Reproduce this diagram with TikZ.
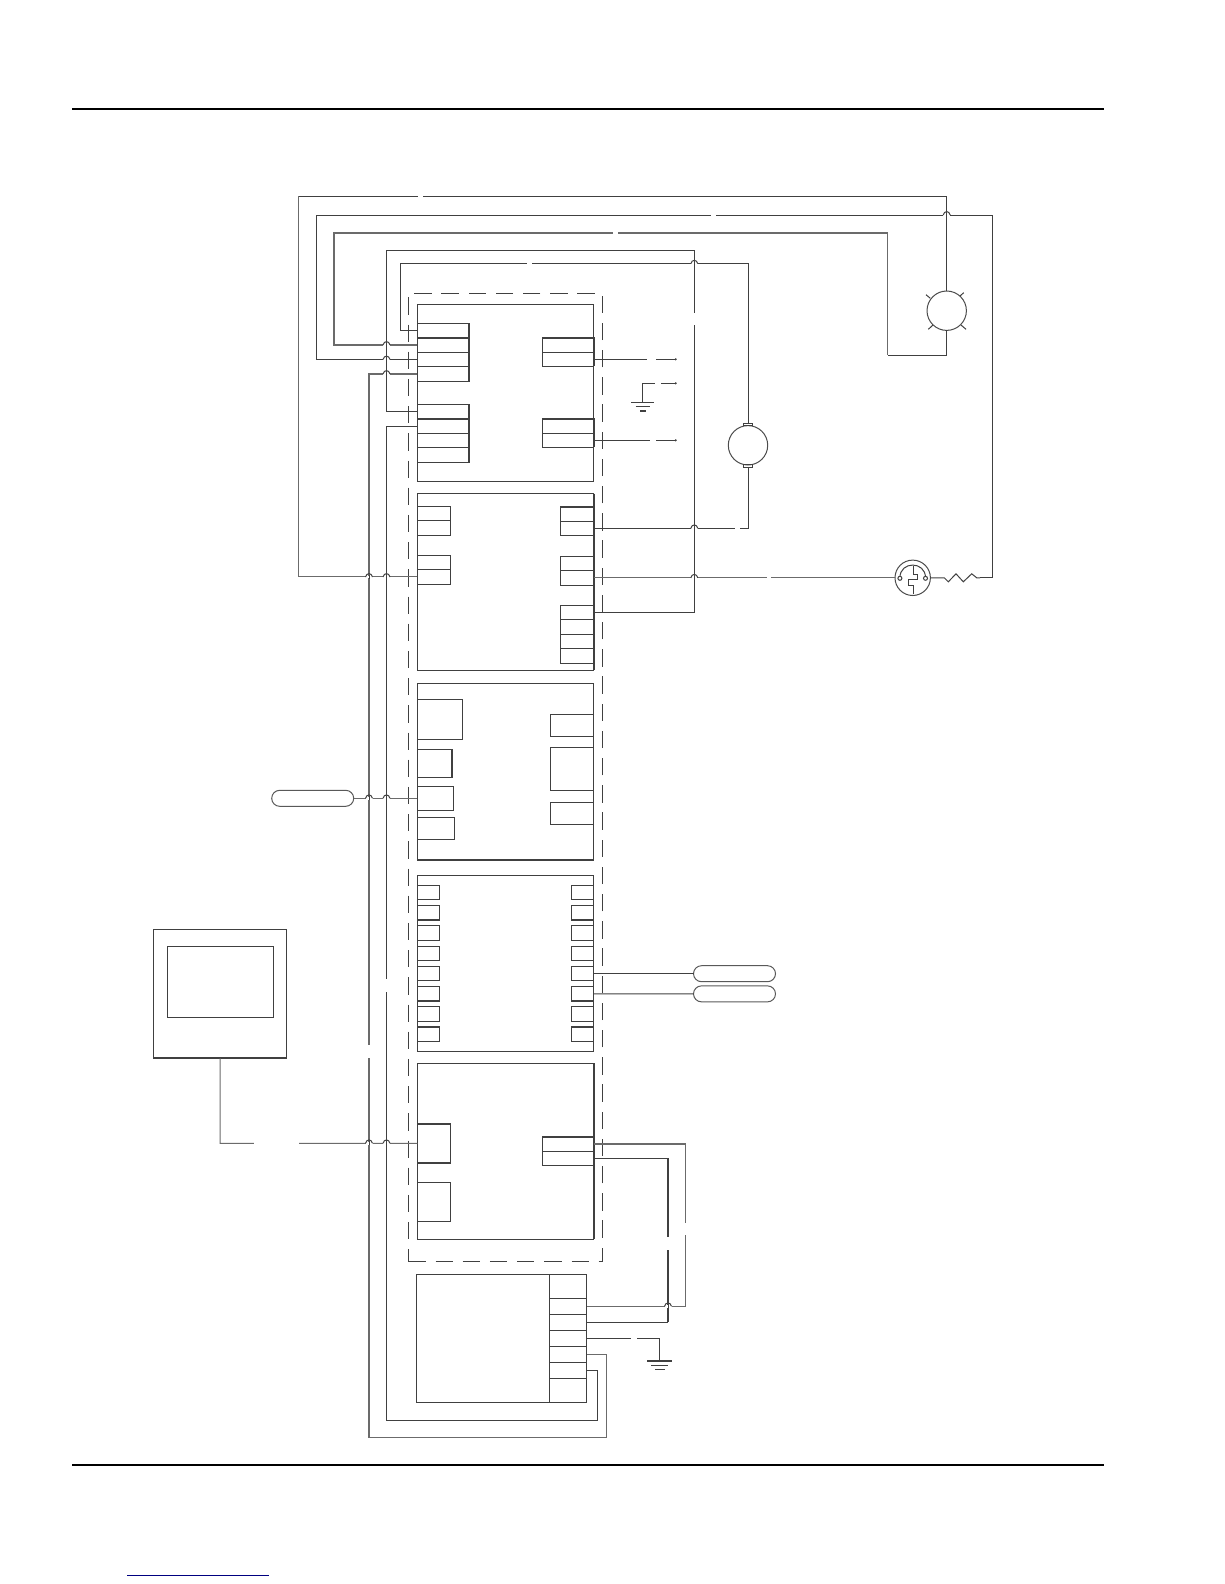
\documentclass[tikz,border=0pt]{standalone}
\usetikzlibrary{shapes.misc}

\begin{document}
\begin{tikzpicture}
	[
		x=1pt,
		y=-1pt,
		every node/.style={inner sep=0pt, outer sep=0pt},
		box/.style={
				rectangle,
				anchor=north west,
				line width=1pt,
				draw=black!75,
			},
		pin/.style={box},
		dashFrame/.style={
				box,
				dash pattern=on 17.3pt off 9.9pt,
			},
		part/.style={
				circle,
				line width=1pt,
				draw=black!70,
				fill=white,
			},
		pill/.style={
				rounded rectangle,
				minimum width=82pt,
				minimum height=16pt,
				line width=1pt,
				draw=black!65,
			},
		wire/.style={line width=1pt, draw=black!75},
		greyWire/.style={line width=1.3pt, draw=black!58},
		heavy/.style={line width=1.9pt, draw=black!75},
		pageRule/.style={line width=2pt, draw=black},
		hop/.pic={
				\fill[white] (-3.5,-1.2) rectangle (3.5,1.2);
				\draw[wire] (-3.5,0) .. controls (-2.5,-4.5) and (2.5,-4.5) .. (3.5,0);
				\draw[wire] (0,-2) -- (0,2);
			},
	]
	\useasboundingbox (0,0) rectangle (1224,1584);
	\draw[pageRule] (72,109) -- (1104,109);
	\draw[pageRule] (72,1465) -- (1104,1465);
	\draw[line width=1pt, draw=blue!50!black] (127,1575) -- (269,1575);

	% modules
	\node[dashFrame, minimum width=194pt, minimum height=968pt] (frame) at (408.3,293.3) {};
	\foreach \name/\xa/\ya/\xb/\yb in {
			box1/417.3/304.3/593.7/481.3,
			box2/417.3/493.7/593.7/670.3,
			box3/417.3/683.3/593.7/860,
			box4/417.3/875.3/593.7/1051.3,
			box5/417.3/1063.3/593.7/1239,
			psu/416.3/1274.3/549.3/1402.3,
			monitor/153.5/929.3/286.5/1058.3,
			screen/167.4/946.3/273.4/1017.3} {
		\node[box, minimum width={(\xb-\xa)*1pt}, minimum height={(\yb-\ya)*1pt}] (\name) at (\xa,\ya) {};
	}

	% connectors on the modules
	\foreach \name/\xa/\ya/\xb/\yb in {
			l1a/417.3/323.3/469.3/337.7, l1b/417.3/337.7/469.3/352.3,
			l1c/417.3/352.3/469.3/366.7, l1d/417.3/366.7/469.3/381.3,
			l1e/417.3/404.3/469.3/418.7, l1f/417.3/418.7/469.3/433.3,
			l1g/417.3/433.3/469.3/447.3, l1h/417.3/447.3/469.3/462.3,
			r1a/542.3/337.7/593.7/352.3, r1b/542.3/352.3/593.7/366.3,
			r1c/542.3/418.7/593.7/433.3, r1d/542.3/433.3/593.7/447.3,
			l2a/417.3/506.3/450.7/520.7, l2b/417.3/520.7/450.7/535.3,
			l2c/417.3/555.7/450.7/569.3, l2d/417.3/569.3/450.7/584.3,
			r2a/560.3/506.7/593.7/521.3, r2b/560.3/521.3/593.7/535.3,
			r2c/560.3/556.3/593.7/570.3, r2d/560.3/570.3/593.7/585.3,
			r2e/560.3/605.3/593.7/619.3, r2f/560.3/619.3/593.7/634.3,
			r2g/560.3/634.3/593.7/648.3, r2h/560.3/648.3/593.7/663.3,
			l3a/417.3/699.3/462.7/739.3, l3b/417.3/749.3/452.3/777.3,
			l3c/417.3/786.3/453.7/810.3, l3d/417.3/817.3/454.7/839.3,
			r3a/550.3/714.3/593.7/736.7, r3b/550.3/747.3/593.7/790.3,
			r3c/550.3/802.3/593.7/824.3,
			l5a/417.3/1124/450.7/1162.7, l5b/417.3/1182.3/450.7/1221.3,
			r5a/542.7/1136.7/593.7/1151.3, r5b/542.7/1151.3/593.7/1165.3,
			ps1/549.3/1274.3/586.7/1298.3, ps2/549.3/1298.3/586.7/1314.3,
			ps3/549.3/1314.3/586.7/1330.3, ps4/549.3/1330.3/586.7/1346.3,
			ps5/549.3/1346.3/586.7/1362.3, ps6/549.3/1362.3/586.7/1378.3,
			ps7/549.3/1378.3/586.7/1402.3} {
		\node[pin, minimum width={(\xb-\xa)*1pt}, minimum height={(\yb-\ya)*1pt}] (\name) at (\xa,\ya) {};
	}
	\foreach \i/\ya/\yb in {
			1/885.3/899.3, 2/905.7/920, 3/925.3/940.3, 4/946.7/960.3,
			5/966.7/980.7, 6/986.7/1001, 7/1006.3/1021.3, 8/1026.7/1041.3} {
		\node[pin, minimum width=22.4pt, minimum height={(\yb-\ya)*1pt}] (l4\i) at (417.3,\ya) {};
		\node[pin, minimum width=22.3pt, minimum height={(\yb-\ya)*1pt}] (r4\i) at (571.4,\ya) {};
	}

	% heavier edges
	\draw[heavy] (l1a.north east) -- (l1d.south east);
	\draw[heavy] (l1b.north west) -- (l1b.north east);
	\draw[heavy] (l1e.north east) -- (l1h.south east);
	\draw[heavy] (l1f.north west) -- (l1f.north east);
	\draw[heavy] (r1a.north west) -- (r1a.north east) -- (r1b.south east);
	\draw[heavy] (r1c.north west) -- (r1c.north east) -- (r1d.south east);
	\draw[heavy] (r2a.north west) -- (r2a.north east);
	\draw[heavy] (box2.north east) -- (box2.south east);
	\draw[heavy] (l3b.north east) -- (l3b.south east);
	\draw[heavy] (box3.south west) -- (box3.south east);
	\draw[heavy] (monitor.south west) -- (monitor.south east);
	\draw[heavy] (box5.north east) -- (box5.south east);
	\draw[heavy] (l5a.north west) -- (l5a.north east);
	\draw[heavy] (l5a.south west) -- (l5a.south east);
	\draw[heavy] (r5a.north west) -- (r5a.north east);
	\foreach \i in {2,6} {
		\draw[heavy] (l4\i.south west) -- (l4\i.south east);
		\draw[heavy] (r4\i.south west) -- (r4\i.south east);
	}
	\draw[heavy] (l48.north west) -- (l48.north east);
	\draw[heavy] (r48.north west) -- (r48.north east);

	% field parts
	\node[part, minimum size=39.4pt] (lamp) at (946.7,310.7) {};
	\node[part, minimum size=39.4pt] (motor) at (748,445.3) {};
	\node[box, anchor=center, minimum width=9pt, minimum height=2.6pt] (motorTop) at (748,424.6) {};
	\node[box, anchor=center, minimum width=9pt, minimum height=2.6pt] (motorBot) at (748,466) {};
	\node[part, minimum size=35.4pt] (relay) at (912.7,577.8) {};
	\node[pill] (pillA) at (312.7,798.3) {};
	\node[pill] (pillB) at (734.5,973.7) {};
	\node[pill] (pillC) at (734.5,993.85) {};

	\draw[wire, shift={(lamp)}] (-20.7,-16) -- (-16.4,-12.4);
	\draw[wire, shift={(lamp)}] (17,-18) -- (13.3,-14.7);
	\draw[wire, shift={(lamp)}] (-18.4,18.6) -- (-13.7,14.3);
	\draw[wire, shift={(lamp)}] (19.3,18.6) -- (14.3,14.3);

	\begin{scope}[shift={(relay)}]
		\draw[wire] (-12.8,0) .. controls (-12.8,-17) and (12.8,-17) .. (12.8,0);
		\draw[wire] (0.7,-12.3) -- (0.7,-3) -- (5,-3) -- (5,2) -- (-4.3,2) -- (-4.3,7.7) -- (0.7,7.7) -- (0.7,16);
		\filldraw[wire, fill=white] (-12.8,0.5) circle (2);
		\filldraw[wire, fill=white] (12.8,0.5) circle (2);
	\end{scope}

	% bends and free ends of the wires
	\coordinate (lampTop) at (298.7,196.3);
	\coordinate (lampLow) at (887.7,355);
	\coordinate (lampBus) at (334,233);
	\coordinate (resBus) at (316.3,215);
	\coordinate (resBack) at (992.7,577.8);
	\coordinate (resEast) at (980,577.8);
	\coordinate (resWest) at (944.3,577.8);
	\coordinate (brakeBus) at (386.5,250.3);
	\coordinate (brakeEnd) at (694.3,612.3);
	\coordinate (motorBus) at (400.7,263.7);
	\coordinate (feedA) at (369,1437.3);
	\coordinate (feedAEnd) at (606.7,1354.3);
	\coordinate (feedB) at (386.5,1420.3);
	\coordinate (feedBEnd) at (597.3,1370.3);
	\coordinate (monLow) at (220.4,1143.3);
	\coordinate (supA) at (685.3,1306.3);
	\coordinate (supB) at (668,1322.3);
	\coordinate (earthA) at (642.3,402.3);
	\coordinate (stubA) at (675.7,359.3);
	\coordinate (stubB) at (675.7,383.3);
	\coordinate (stubC) at (675.7,440.3);
	\coordinate (earthB) at (659.3,1360.7);

	% wires
	\draw[wire] (lamp.north) |- (lampTop);
	\draw[greyWire] (lampTop) |- (l2d.west);
	\draw[wire] (lamp.south) |- (lampLow);
	\draw[greyWire] (lampLow) |- (lampBus) |- (l1b.west);
	\draw[wire] (l1c.west) -| (resBus) -| (resBack) -- (resEast);
	\draw[wire] (resEast) -- ++(-3.3,0) -- ++(-5,-4) -- ++(-8.4,8) -- ++(-7.3,-8) -- ++(-7.7,8) -- ++(-4,-4) -- (resWest) -- (relay.east);
	\draw[greyWire] (relay.west) -- (r2d.east);
	\draw[wire] (l1e.west) -| (brakeBus) -| (brakeEnd) -- (r2e.east);
	\draw[wire] (l1a.west) -| (motorBus) -| (motorTop.north);
	\draw[wire] (motorBot.south) |- (r2b.east);
	\draw[greyWire] (l1d.west) -| (feedA) -| (feedAEnd) -- (ps5.east);
	\draw[wire] (l1f.west) -| (feedB) -| (feedBEnd) -- (ps6.east);
	\draw[greyWire, line width=1pt] (pillA.east) -- (l3c.west);
	\draw[greyWire, line width=1pt] (monitor.south) |- (monLow) -- (l5a.west);
	\draw[wire] (r45.east) -- (pillB.west);
	\draw[wire] (r46.east) -- (pillC.west);
	\draw[greyWire, line width=1.1pt] (r5a.east) -| (supA) -- (ps2.east);
	\draw[wire] (r5b.east) -| (supB);
	\draw[heavy] (supB) ++(0,-164) -- (supB);
	\draw[wire] (supB) -- (ps3.east);
	\draw[wire] (ps4.east) -| (earthB);
	\draw[wire] (r1b.east) -- (stubA);
	\draw[wire] (earthA) |- (stubB);
	\draw[wire] (r1d.east) -- (stubC);
	\foreach \name in {stubA,stubB,stubC} {
		\fill[black!75] (\name) circle (1.2);
	}

	% earth symbols
	\draw[wire] (earthA) ++(-11.3,0) -- ++(23,0);
	\draw[wire] (earthA) ++(-6.6,4.4) -- ++(14.3,0);
	\draw[heavy] (earthA) ++(-2.3,8.4) -- ++(5.7,0);
	\draw[heavy] (earthB) ++(-12,0) -- ++(25,0);
	\draw[wire] (earthB) ++(-8.3,4.6) -- ++(17.3,0);
	\draw[wire] (earthB) ++(-4.3,8.6) -- ++(10,0);

	% breaks in the wires
	\foreach \xa/\ya/\xb/\yb in {
			418/194/423/198.5, 711/213/716/217, 612.7/231/618/235,
			527.3/261.7/532.3/265.7, 692.3/312.7/696.3/325,
			646.7/357.3/656/361.3, 650/438.3/656/442.3, 655/381.3/661/385.3,
			735/526.3/740/530.3, 767/575.8/771/579.8,
			367/1045.3/371/1058.3, 384.5/979/388.5/992,
			253.6/1141.3/299/1145.3,
			683.3/1222.7/687.3/1235, 665.5/1237.3/670.5/1250,
			631/1336.3/636.7/1340.3} {
		\fill[white] (\xa,\ya) rectangle (\xb,\yb);
	}

	% wire crossings
	\foreach \x/\y in {
			386.5/345, 386.5/359.5, 386.5/374,
			369/577, 386.5/577, 369/798.3, 386.5/798.3,
			369/1143.3, 386.5/1143.3,
			694.3/263.7, 694.3/528.3, 694.3/577.8,
			946.7/215, 668/1306.3} {
		\pic at (\x,\y) {hop};
	}
\end{tikzpicture}
\end{document}
